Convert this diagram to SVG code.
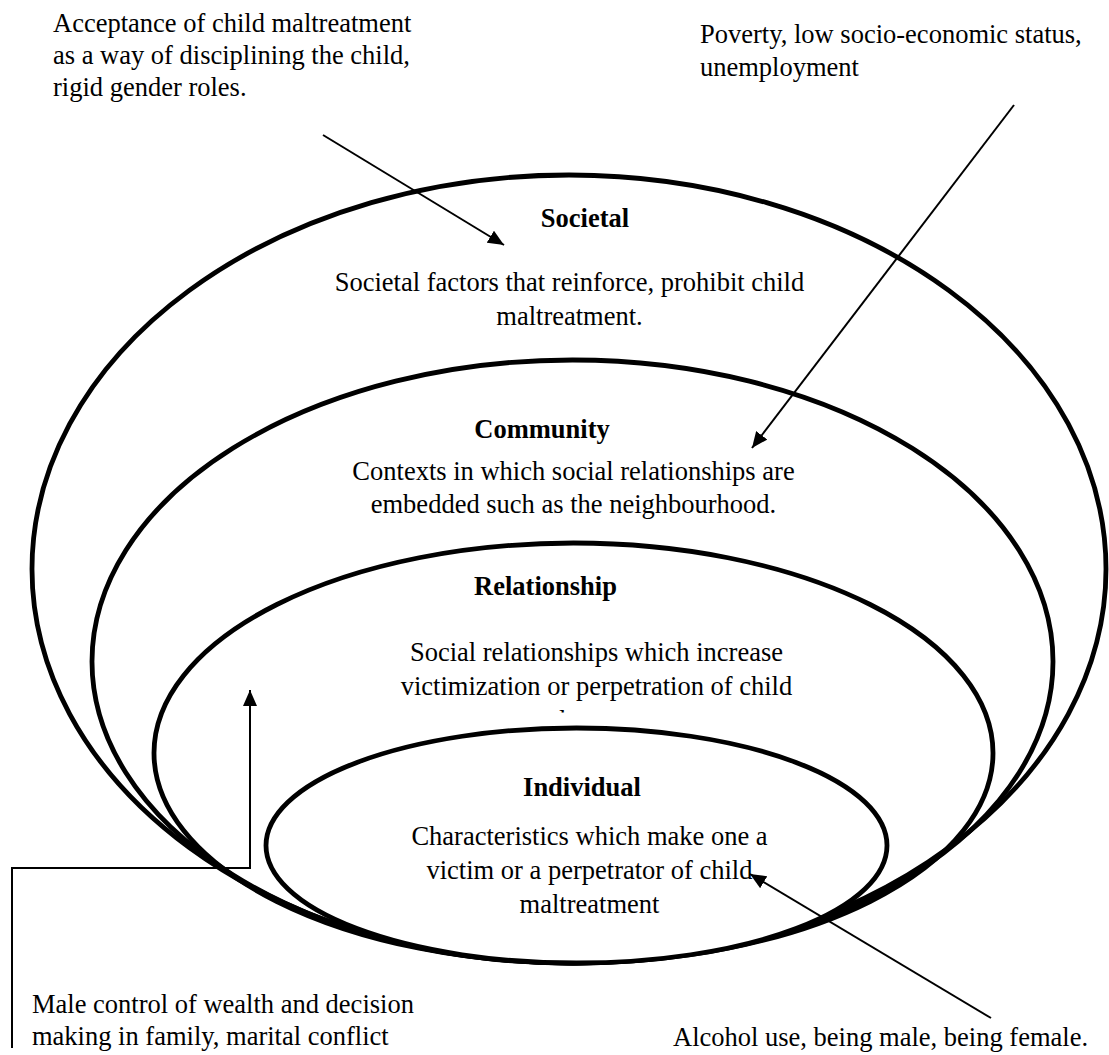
<svg xmlns="http://www.w3.org/2000/svg" width="1109" height="1055" viewBox="0 0 1109 1055">
<style>
.t{font-family:"Liberation Serif","Times New Roman",serif;font-size:26.5px;fill:#000}
.b{font-weight:bold}
.m{text-anchor:middle}
.ring{fill:none;stroke:#000;stroke-width:4.8}
.ringw{fill:#fff;stroke:#000;stroke-width:4.8}
.c{fill:none;stroke:#000;stroke-width:2}
</style>
<defs>
<marker id="ah" markerUnits="userSpaceOnUse" markerWidth="18" markerHeight="14" refX="16" refY="7" orient="auto">
<path d="M0,0 L16,7 L0,14 Z" fill="#000"/>
</marker>
<clipPath id="clipRel"><rect x="300" y="600" width="600" height="112.5"/></clipPath>
</defs>
<rect width="1109" height="1055" fill="#fff"/>

<g id="societal">
<ellipse class="ring" cx="569" cy="569" rx="537" ry="394"/>
<text class="t b m" x="585" y="227">Societal</text>
<text class="t m" x="569.5" y="291">Societal factors that reinforce, prohibit child</text>
<text class="t m" x="569.5" y="325">maltreatment.</text>
</g>

<g id="community">
<ellipse class="ring" cx="572.5" cy="661.5" rx="480.5" ry="301.5"/>
<text class="t b m" x="542" y="438">Community</text>
<text class="t m" x="573.5" y="480">Contexts in which social relationships are</text>
<text class="t m" x="573.5" y="513">embedded such as the neighbourhood.</text>
</g>

<g id="relationship">
<ellipse class="ring" cx="573.5" cy="753" rx="419.5" ry="210"/>
<text class="t b m" x="545.5" y="595">Relationship</text>
<text class="t m" x="596.5" y="661">Social relationships which increase</text>
<text class="t m" x="596.5" y="695">victimization or perpetration of child</text>
<text class="t m" x="596.5" y="729" clip-path="url(#clipRel)">maltreatment</text>
</g>

<g id="individual">
<ellipse class="ringw" cx="576.5" cy="845.5" rx="310.5" ry="117.5"/>
<text class="t b m" x="582" y="796">Individual</text>
<text class="t m" x="589.5" y="845">Characteristics which make one a</text>
<text class="t m" x="589.5" y="879">victim or a perpetrator of child</text>
<text class="t m" x="589.5" y="913">maltreatment</text>
</g>

<g id="label-societal">
<text class="t" x="53" y="32">Acceptance of child maltreatment</text>
<text class="t" x="53" y="64">as a way of disciplining the child,</text>
<text class="t" x="53" y="96">rigid gender roles.</text>
</g>
<g id="label-community">
<text class="t" x="700" y="43">Poverty, low socio-economic status,</text>
<text class="t" x="700" y="76">unemployment</text>
</g>
<g id="label-relationship">
<text class="t" x="32" y="1013">Male control of wealth and decision</text>
<text class="t" x="32" y="1045">making in family, marital conflict</text>
</g>
<g id="label-individual">
<text class="t" x="673" y="1046">Alcohol use, being male, being female.</text>
</g>

<g id="connectors">
<line class="c" x1="323" y1="135" x2="504" y2="245" marker-end="url(#ah)"/>
<line class="c" x1="1014" y1="105" x2="752" y2="448" marker-end="url(#ah)"/>
<polyline class="c" points="12,1048 12,868 250,868 250,690" marker-end="url(#ah)"/>
<line class="c" x1="991" y1="1018" x2="750" y2="874" marker-end="url(#ah)"/>
</g>
</svg>
